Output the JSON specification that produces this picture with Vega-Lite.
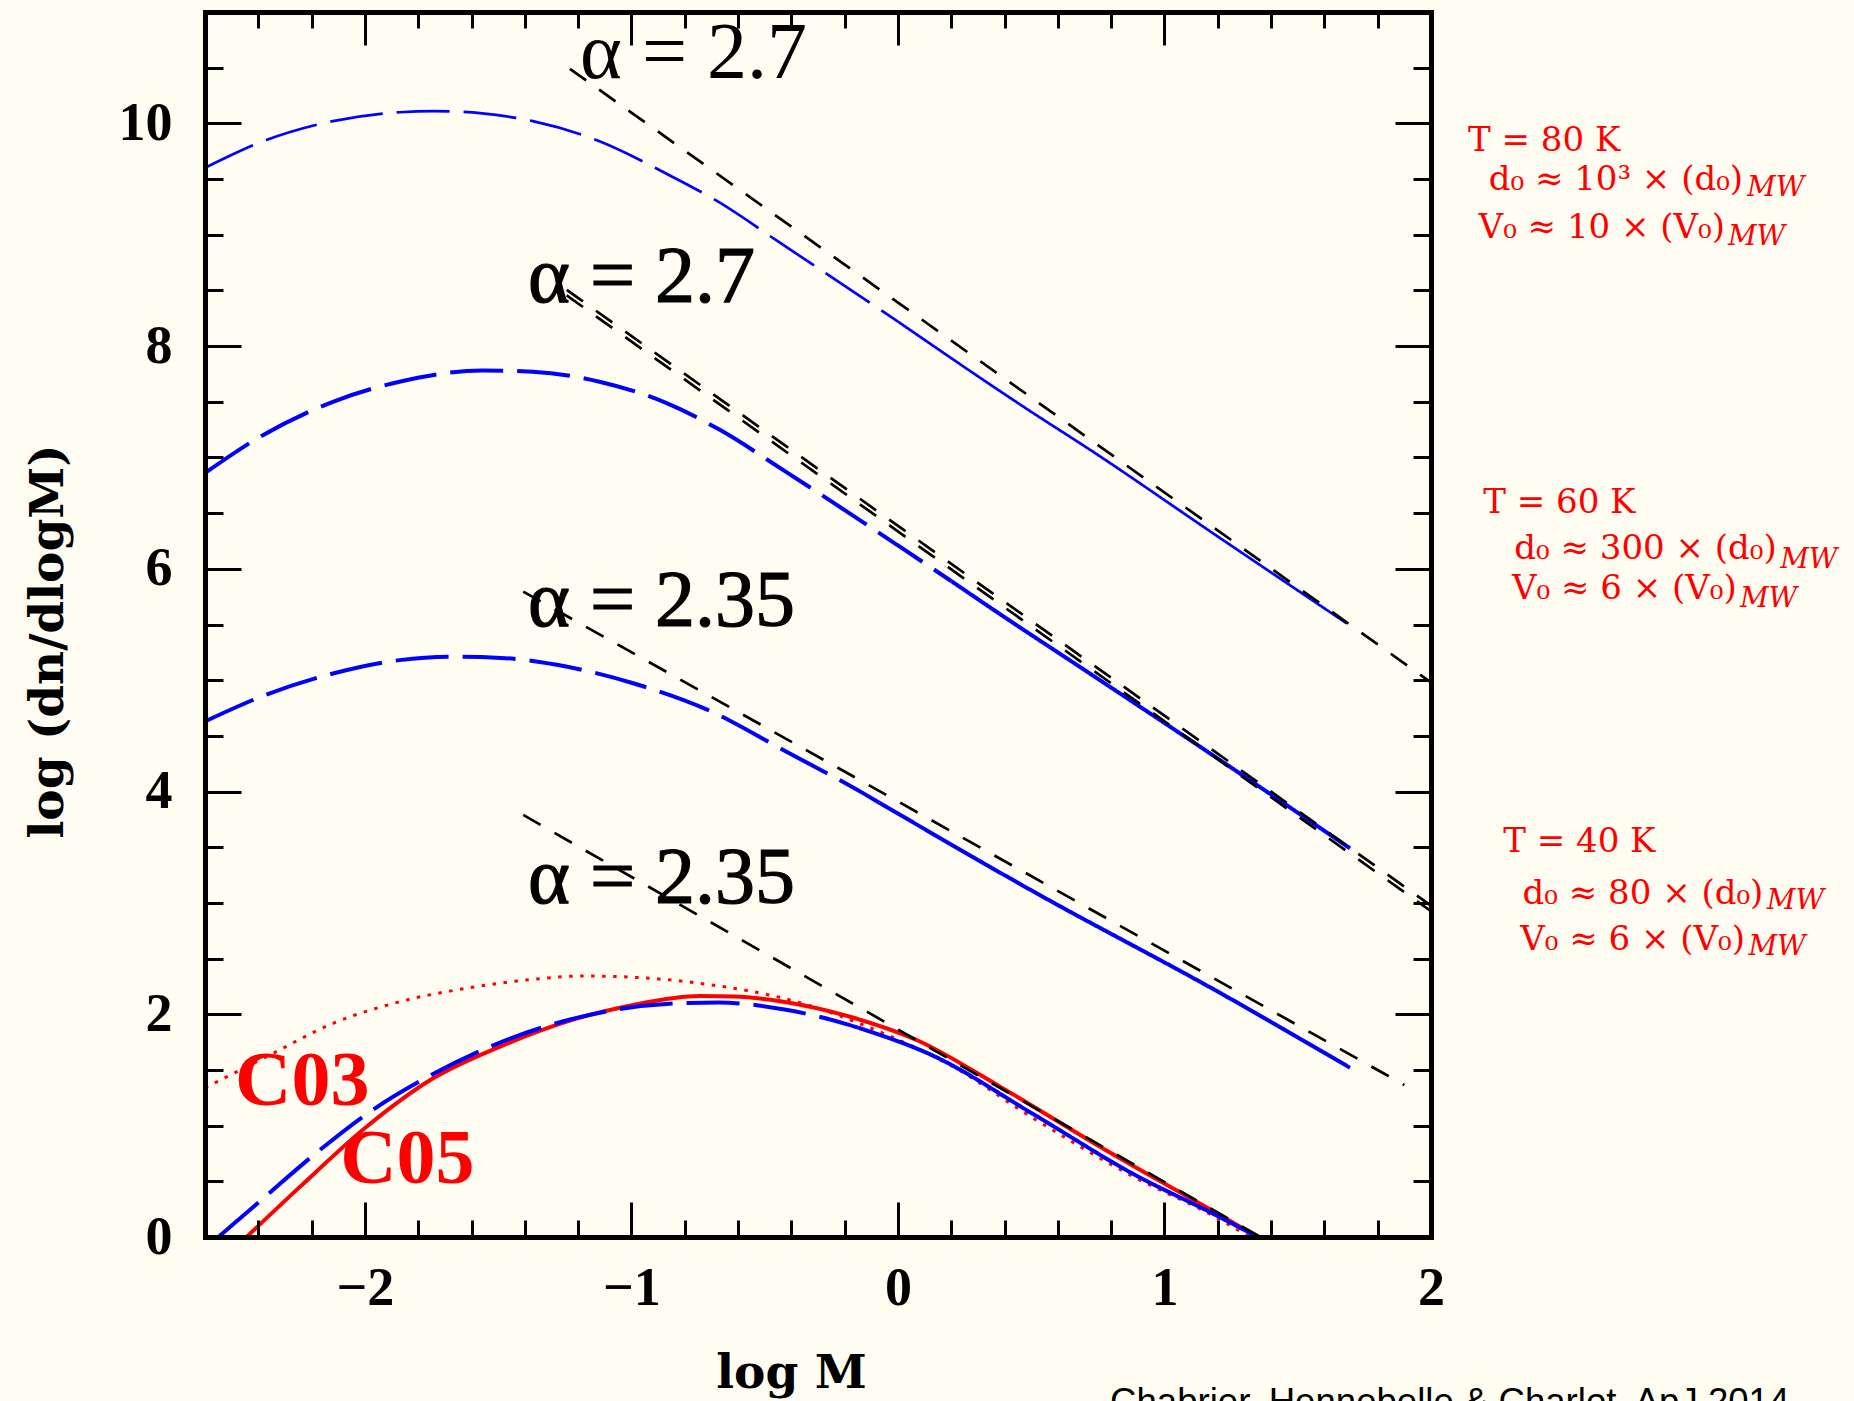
{
  "$schema": "https://vega.github.io/schema/vega-lite/v6.json",
  "width": 1226,
  "height": 1225,
  "autosize": {"type": "none"},
  "padding": {"left": 205, "top": 12, "right": 423, "bottom": 164},
  "background": "#fffdf2",
  "config": {"view": {"stroke": null}, "axis": {"grid": false}},
  "datasets": {
    "blue": [
      {"curve": "A", "seg": "dash", "x": -2.6, "y": 9.6},
      {"curve": "A", "seg": "dash", "x": -2.37, "y": 9.85},
      {"curve": "A", "seg": "dash", "x": -2.12, "y": 10.02},
      {"curve": "A", "seg": "dash", "x": -1.87, "y": 10.1},
      {"curve": "A", "seg": "dash", "x": -1.74, "y": 10.11},
      {"curve": "A", "seg": "dash", "x": -1.56, "y": 10.09},
      {"curve": "A", "seg": "dash", "x": -1.37, "y": 10.02},
      {"curve": "A", "seg": "dash", "x": -1.12, "y": 9.84},
      {"curve": "A", "seg": "dash", "x": -0.87, "y": 9.55},
      {"curve": "A", "seg": "dash", "x": -0.67, "y": 9.29},
      {"curve": "A", "seg": "dash", "x": -0.45, "y": 8.94},
      {"curve": "A", "seg": "dash", "x": -0.2, "y": 8.54},
      {"curve": "A", "seg": "dash", "x": 0.0, "y": 8.22},
      {"curve": "A", "seg": "solid", "x": 0.0, "y": 8.22},
      {"curve": "A", "seg": "solid", "x": 0.5, "y": 7.41},
      {"curve": "A", "seg": "solid", "x": 0.72, "y": 7.07},
      {"curve": "A", "seg": "solid", "x": 1.2, "y": 6.29},
      {"curve": "A", "seg": "solid", "x": 1.684, "y": 5.51},
      {"curve": "B", "seg": "dash", "x": -2.6, "y": 6.86},
      {"curve": "B", "seg": "dash", "x": -2.39, "y": 7.19},
      {"curve": "B", "seg": "dash", "x": -2.12, "y": 7.5},
      {"curve": "B", "seg": "dash", "x": -1.87, "y": 7.68},
      {"curve": "B", "seg": "dash", "x": -1.56, "y": 7.78},
      {"curve": "B", "seg": "dash", "x": -1.37, "y": 7.77},
      {"curve": "B", "seg": "dash", "x": -1.12, "y": 7.68},
      {"curve": "B", "seg": "dash", "x": -0.87, "y": 7.49},
      {"curve": "B", "seg": "dash", "x": -0.67, "y": 7.25},
      {"curve": "B", "seg": "dash", "x": -0.42, "y": 6.87},
      {"curve": "B", "seg": "dash", "x": -0.17, "y": 6.48},
      {"curve": "B", "seg": "dash", "x": 0.0, "y": 6.21},
      {"curve": "B", "seg": "dash", "x": 0.2, "y": 5.89},
      {"curve": "B", "seg": "solid", "x": 0.2, "y": 5.89},
      {"curve": "B", "seg": "solid", "x": 0.36, "y": 5.63},
      {"curve": "B", "seg": "solid", "x": 0.72, "y": 5.06},
      {"curve": "B", "seg": "solid", "x": 1.21, "y": 4.28},
      {"curve": "B", "seg": "solid", "x": 1.696, "y": 3.49},
      {"curve": "C", "seg": "dash", "x": -2.6, "y": 4.63},
      {"curve": "C", "seg": "dash", "x": -2.37, "y": 4.87},
      {"curve": "C", "seg": "dash", "x": -2.12, "y": 5.06},
      {"curve": "C", "seg": "dash", "x": -1.87, "y": 5.18},
      {"curve": "C", "seg": "dash", "x": -1.68, "y": 5.21},
      {"curve": "C", "seg": "dash", "x": -1.49, "y": 5.2},
      {"curve": "C", "seg": "dash", "x": -1.24, "y": 5.12},
      {"curve": "C", "seg": "dash", "x": -0.99, "y": 4.97},
      {"curve": "C", "seg": "dash", "x": -0.72, "y": 4.74},
      {"curve": "C", "seg": "dash", "x": -0.42, "y": 4.36},
      {"curve": "C", "seg": "dash", "x": -0.12, "y": 3.97},
      {"curve": "C", "seg": "dash", "x": -0.07, "y": 3.9},
      {"curve": "C", "seg": "solid", "x": -0.07, "y": 3.9},
      {"curve": "C", "seg": "solid", "x": 0.51, "y": 3.1},
      {"curve": "C", "seg": "solid", "x": 1.21, "y": 2.19},
      {"curve": "C", "seg": "solid", "x": 1.696, "y": 1.52},
      {"curve": "D", "seg": "dash", "x": -2.55, "y": 0.0},
      {"curve": "D", "seg": "dash", "x": -2.39, "y": 0.33},
      {"curve": "D", "seg": "dash", "x": -2.19, "y": 0.74},
      {"curve": "D", "seg": "dash", "x": -1.99, "y": 1.11},
      {"curve": "D", "seg": "dash", "x": -1.77, "y": 1.43},
      {"curve": "D", "seg": "dash", "x": -1.54, "y": 1.7},
      {"curve": "D", "seg": "dash", "x": -1.31, "y": 1.9},
      {"curve": "D", "seg": "dash", "x": -1.06, "y": 2.04},
      {"curve": "D", "seg": "dash", "x": -0.81, "y": 2.1},
      {"curve": "D", "seg": "dash", "x": -0.67, "y": 2.105},
      {"curve": "D", "seg": "dash", "x": -0.42, "y": 2.04},
      {"curve": "D", "seg": "dash", "x": -0.19, "y": 1.91},
      {"curve": "D", "seg": "dash", "x": -0.15, "y": 1.88},
      {"curve": "D", "seg": "solid", "x": -0.15, "y": 1.88},
      {"curve": "D", "seg": "solid", "x": 0.13, "y": 1.63},
      {"curve": "D", "seg": "solid", "x": 0.51, "y": 1.1},
      {"curve": "D", "seg": "solid", "x": 0.88, "y": 0.57},
      {"curve": "D", "seg": "solid", "x": 1.19, "y": 0.2},
      {"curve": "D", "seg": "solid", "x": 1.35, "y": 0.0}
    ],
    "c05": [
      {"x": -2.444, "y": 0.0},
      {"x": -2.244, "y": 0.45},
      {"x": -1.994, "y": 0.99},
      {"x": -1.744, "y": 1.425},
      {"x": -1.493, "y": 1.71},
      {"x": -1.243, "y": 1.934},
      {"x": -0.993, "y": 2.084},
      {"x": -0.743, "y": 2.164},
      {"x": -0.617, "y": 2.16},
      {"x": -0.43, "y": 2.113},
      {"x": -0.18, "y": 1.978},
      {"x": 0.07, "y": 1.769},
      {"x": 0.383, "y": 1.35},
      {"x": 0.758, "y": 0.811},
      {"x": 1.196, "y": 0.213},
      {"x": 1.35, "y": 0.0}
    ],
    "c03": [
      {"x": -2.6, "y": 1.34},
      {"x": -2.369, "y": 1.619},
      {"x": -2.119, "y": 1.919},
      {"x": -1.869, "y": 2.113},
      {"x": -1.618, "y": 2.234},
      {"x": -1.368, "y": 2.314},
      {"x": -1.181, "y": 2.344},
      {"x": -0.993, "y": 2.332},
      {"x": -0.743, "y": 2.278},
      {"x": -0.368, "y": 2.104},
      {"x": -0.055, "y": 1.829},
      {"x": 0.195, "y": 1.545},
      {"x": 0.508, "y": 1.066},
      {"x": 0.883, "y": 0.542},
      {"x": 1.189, "y": 0.182},
      {"x": 1.32, "y": 0.0}
    ],
    "power": [
      {"line": "p1", "x": -1.231, "y": 10.49},
      {"line": "p1", "x": 2.0, "y": 4.98},
      {"line": "p2a", "x": -1.243, "y": 8.505},
      {"line": "p2a", "x": 2.0, "y": 2.976},
      {"line": "p2b", "x": -1.243, "y": 8.455},
      {"line": "p2b", "x": 2.0, "y": 2.926},
      {"line": "p3", "x": -1.406, "y": 5.795},
      {"line": "p3", "x": 1.9, "y": 1.365},
      {"line": "p4", "x": -1.406, "y": 3.79},
      {"line": "p4", "x": 1.36, "y": 0.0}
    ],
    "alpha": [
      {"text": "α = 2.7", "x": -1.193, "y": 10.408},
      {"text": "α = 2.7", "x": -1.388, "y": 8.396},
      {"text": "α = 2.35", "x": -1.388, "y": 5.487},
      {"text": "α = 2.35", "x": -1.388, "y": 2.999}
    ],
    "imf": [
      {"text": "C03", "x": -2.487, "y": 1.185},
      {"text": "C05", "x": -2.093, "y": 0.485}
    ],
    "tlines": [
      {"text": "T = 80 K", "x": 2.139, "y": 9.75},
      {"text": "T = 60 K", "x": 2.196, "y": 6.498},
      {"text": "T = 40 K", "x": 2.271, "y": 3.456}
    ],
    "dvlines": [
      {"text": "d₀ ≈ 10³ × (d₀)", "x": 3.171, "y": 9.4},
      {"text": "V₀ ≈ 10 × (V₀)", "x": 3.103, "y": 8.972},
      {"text": "d₀ ≈ 300 × (d₀)", "x": 3.297, "y": 6.086},
      {"text": "V₀ ≈ 6 × (V₀)", "x": 3.147, "y": 5.725},
      {"text": "d₀ ≈ 80 × (d₀)", "x": 3.247, "y": 2.992},
      {"text": "V₀ ≈ 6 × (V₀)", "x": 3.178, "y": 2.58}
    ],
    "mw": [
      {"text": "MW", "x": 3.186, "y": 9.348},
      {"text": "MW", "x": 3.114, "y": 8.905},
      {"text": "MW", "x": 3.31, "y": 6.008},
      {"text": "MW", "x": 3.159, "y": 5.657},
      {"text": "MW", "x": 3.26, "y": 2.941},
      {"text": "MW", "x": 3.191, "y": 2.529}
    ],
    "cite": [
      {"text": "Chabrier, Hennebelle & Charlot, ApJ 2014", "x": 0.796, "y": -1.589}
    ]
  },
  "layer": [
    {
      "data": {"name": "c03"},
      "mark": {"type": "line", "color": "#ff0000", "strokeWidth": 3, "strokeDash": [3.5, 7.5], "interpolate": "monotone"},
      "encoding": {
        "x": {"field": "x", "type": "quantitative", "scale": {"domain": [-2.6, 2], "nice": false, "zero": false},
          "axis": {"orient": "top", "values": [-2.4, -2.2, -1.8, -1.6, -1.4, -1.2, -0.8, -0.6, -0.4, -0.2, 0.2, 0.4, 0.6, 0.8, 1.2, 1.4, 1.6, 1.8], "labels": false, "ticks": true, "tickSize": -16, "tickWidth": 3, "tickColor": "#000000", "domain": false, "title": null, "zindex": 1}},
        "y": {"field": "y", "type": "quantitative", "scale": {"domain": [0, 11], "nice": false, "zero": false},
          "axis": {"orient": "right", "values": [0.5, 1, 1.5, 2.5, 3, 3.5, 4.5, 5, 5.5, 6.5, 7, 7.5, 8.5, 9, 9.5, 10.5], "labels": false, "ticks": true, "tickSize": -18, "tickWidth": 3, "tickColor": "#000000", "domain": false, "title": null, "zindex": 1}}
      }
    },
    {
      "data": {"name": "c05"},
      "mark": {"type": "line", "color": "#ff0000", "strokeWidth": 4, "interpolate": "monotone"},
      "encoding": {
        "x": {"field": "x", "type": "quantitative", "scale": {"domain": [-2.6, 2], "nice": false, "zero": false},
          "axis": {"orient": "top", "values": [-2, -1, 0, 1, 2], "labels": false, "ticks": true, "tickSize": -33, "tickWidth": 3, "tickColor": "#000000", "domain": true, "domainWidth": 5, "domainColor": "#000000", "domainCap": "square", "title": null, "zindex": 1}},
        "y": {"field": "y", "type": "quantitative", "scale": {"domain": [0, 11], "nice": false, "zero": false},
          "axis": {"orient": "right", "values": [0, 2, 4, 6, 8, 10], "labels": false, "ticks": true, "tickSize": -36, "tickWidth": 3, "tickColor": "#000000", "domain": true, "domainWidth": 5, "domainColor": "#000000", "domainCap": "square", "title": null, "zindex": 1}}
      }
    },
    {
      "data": {"name": "blue"},
      "transform": [{"filter": "datum.curve !== 'A'"}],
      "mark": {"type": "line", "color": "#0000ff", "strokeWidth": 4, "interpolate": "monotone"},
      "encoding": {
        "x": {"field": "x", "type": "quantitative", "scale": {"domain": [-2.6, 2], "nice": false, "zero": false},
          "axis": {"orient": "bottom", "values": [-2.4, -2.2, -1.8, -1.6, -1.4, -1.2, -0.8, -0.6, -0.4, -0.2, 0.2, 0.4, 0.6, 0.8, 1.2, 1.4, 1.6, 1.8], "labels": false, "ticks": true, "tickSize": -17, "tickWidth": 3, "tickColor": "#000000", "domain": false, "title": null, "zindex": 1}},
        "y": {"field": "y", "type": "quantitative", "scale": {"domain": [0, 11], "nice": false, "zero": false},
          "axis": {"orient": "left", "values": [0.5, 1, 1.5, 2.5, 3, 3.5, 4.5, 5, 5.5, 6.5, 7, 7.5, 8.5, 9, 9.5, 10.5], "labels": false, "ticks": true, "tickSize": -18, "tickWidth": 3, "tickColor": "#000000", "domain": false, "title": null, "zindex": 1}},
        "detail": {"field": "curve"},
        "strokeDash": {"field": "seg", "type": "nominal", "scale": {"domain": ["dash", "solid"], "range": [[53, 14], [1, 0]]}, "legend": null}
      }
    },
    {
      "data": {"name": "blue"},
      "transform": [{"filter": "datum.curve === 'A'"}],
      "mark": {"type": "line", "color": "#0000ff", "strokeWidth": 2.7, "interpolate": "monotone"},
      "encoding": {
        "x": {"field": "x", "type": "quantitative", "scale": {"domain": [-2.6, 2], "nice": false, "zero": false},
          "axis": {"orient": "bottom", "values": [-2, -1, 0, 1, 2], "labels": false, "ticks": true, "tickSize": -35, "tickWidth": 3, "tickColor": "#000000", "domain": true, "domainWidth": 5, "domainColor": "#000000", "domainCap": "square", "title": null, "zindex": 1}},
        "y": {"field": "y", "type": "quantitative", "scale": {"domain": [0, 11], "nice": false, "zero": false},
          "axis": {"orient": "left", "values": [0, 2, 4, 6, 8, 10], "labels": false, "ticks": true, "tickSize": -36, "tickWidth": 3, "tickColor": "#000000", "domain": true, "domainWidth": 5, "domainColor": "#000000", "domainCap": "square", "title": null, "zindex": 1}},
        "detail": {"field": "curve"},
        "strokeDash": {"field": "seg", "type": "nominal", "scale": {"domain": ["dash", "solid"], "range": [[53, 14], [1, 0]]}, "legend": null}
      }
    },
    {
      "data": {"name": "power"},
      "mark": {"type": "line", "color": "#000000", "strokeWidth": 2.7, "strokeDash": [20, 16]},
      "encoding": {
        "x": {"field": "x", "type": "quantitative", "scale": {"domain": [-2.6, 2], "nice": false, "zero": false},
          "axis": {"orient": "bottom", "values": [-2, -1, 0, 1, 2], "format": "d", "ticks": false, "domain": false, "labels": true, "labelFont": "Liberation Serif", "labelFontWeight": "bold", "labelFontSize": 54, "labelColor": "#000000", "labelPadding": 24, "labelFlush": false, "labelOverlap": false, "labelBound": false,
            "title": "log M", "titleFont": "DejaVu Serif", "titleFontWeight": "bold", "titleFontSize": 47, "titleColor": "#000000", "titleX": 586, "titleY": 150, "titleAlign": "center", "titleBaseline": "alphabetic", "titleAngle": 0}},
        "y": {"field": "y", "type": "quantitative", "scale": {"domain": [0, 11], "nice": false, "zero": false},
          "axis": {"orient": "left", "values": [0, 2, 4, 6, 8, 10], "format": "d", "ticks": false, "domain": false, "labels": true, "labelFont": "Liberation Serif", "labelFontWeight": "bold", "labelFontSize": 54, "labelColor": "#000000", "labelPadding": 33, "labelFlush": false, "labelOverlap": false, "labelBound": false,
            "title": "log (dn/dlogM)", "titleFont": "DejaVu Serif", "titleFontWeight": "bold", "titleFontSize": 47, "titleColor": "#000000", "titleX": -143, "titleY": 629, "titleAlign": "center", "titleBaseline": "alphabetic", "titleAngle": 270}},
        "detail": {"field": "line"}
      }
    },
    {
      "data": {"name": "alpha"},
      "transform": [{"filter": "datum.y > 10"}],
      "mark": {"type": "text", "align": "left", "baseline": "alphabetic", "font": "Liberation Serif", "fontSize": 80, "color": "#000000"},
      "encoding": {
        "x": {"field": "x", "type": "quantitative", "scale": {"domain": [-2.6, 2], "nice": false, "zero": false}, "axis": null},
        "y": {"field": "y", "type": "quantitative", "scale": {"domain": [0, 11], "nice": false, "zero": false}, "axis": null},
        "text": {"field": "text"}
      }
    },
    {
      "data": {"name": "alpha"},
      "transform": [{"filter": "datum.y < 10"}],
      "mark": {"type": "text", "align": "left", "baseline": "alphabetic", "font": "Liberation Serif", "fontSize": 80, "color": "#000000", "stroke": "#000000", "strokeWidth": 1.2},
      "encoding": {
        "x": {"field": "x", "type": "quantitative", "scale": {"domain": [-2.6, 2], "nice": false, "zero": false}, "axis": null},
        "y": {"field": "y", "type": "quantitative", "scale": {"domain": [0, 11], "nice": false, "zero": false}, "axis": null},
        "text": {"field": "text"}
      }
    },
    {
      "data": {"name": "imf"},
      "mark": {"type": "text", "align": "left", "baseline": "alphabetic", "font": "Liberation Serif", "fontWeight": "bold", "fontSize": 78, "color": "#ff0000"},
      "encoding": {
        "x": {"field": "x", "type": "quantitative", "scale": {"domain": [-2.6, 2], "nice": false, "zero": false}, "axis": null},
        "y": {"field": "y", "type": "quantitative", "scale": {"domain": [0, 11], "nice": false, "zero": false}, "axis": null},
        "text": {"field": "text"}
      }
    },
    {
      "data": {"name": "tlines"},
      "mark": {"type": "text", "align": "left", "baseline": "alphabetic", "font": "DejaVu Serif", "fontSize": 34, "color": "#ff0000"},
      "encoding": {
        "x": {"field": "x", "type": "quantitative", "scale": {"domain": [-2.6, 2], "nice": false, "zero": false}, "axis": null},
        "y": {"field": "y", "type": "quantitative", "scale": {"domain": [0, 11], "nice": false, "zero": false}, "axis": null},
        "text": {"field": "text"}
      }
    },
    {
      "data": {"name": "dvlines"},
      "mark": {"type": "text", "align": "right", "baseline": "alphabetic", "font": "DejaVu Serif", "fontSize": 34, "color": "#ff0000"},
      "encoding": {
        "x": {"field": "x", "type": "quantitative", "scale": {"domain": [-2.6, 2], "nice": false, "zero": false}, "axis": null},
        "y": {"field": "y", "type": "quantitative", "scale": {"domain": [0, 11], "nice": false, "zero": false}, "axis": null},
        "text": {"field": "text"}
      }
    },
    {
      "data": {"name": "mw"},
      "mark": {"type": "text", "align": "left", "baseline": "alphabetic", "font": "DejaVu Serif", "fontStyle": "italic", "fontSize": 28, "color": "#ff0000"},
      "encoding": {
        "x": {"field": "x", "type": "quantitative", "scale": {"domain": [-2.6, 2], "nice": false, "zero": false}, "axis": null},
        "y": {"field": "y", "type": "quantitative", "scale": {"domain": [0, 11], "nice": false, "zero": false}, "axis": null},
        "text": {"field": "text"}
      }
    },
    {
      "data": {"name": "cite"},
      "mark": {"type": "text", "align": "left", "baseline": "alphabetic", "font": "Liberation Sans", "fontSize": 36.6, "color": "#000000"},
      "encoding": {
        "x": {"field": "x", "type": "quantitative", "scale": {"domain": [-2.6, 2], "nice": false, "zero": false}, "axis": null},
        "y": {"field": "y", "type": "quantitative", "scale": {"domain": [0, 11], "nice": false, "zero": false}, "axis": null},
        "text": {"field": "text"}
      }
    }
  ],
  "resolve": {"axis": {"x": "independent", "y": "independent"}}
}
